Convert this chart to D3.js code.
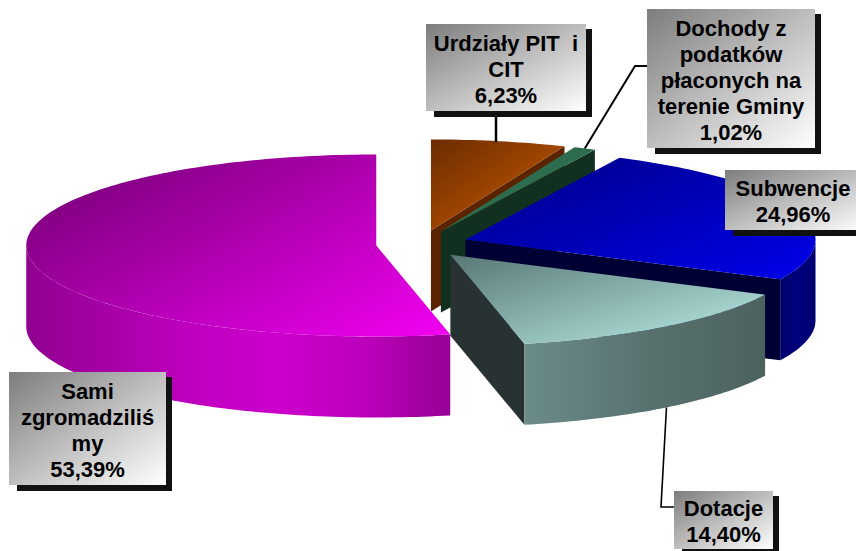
<!DOCTYPE html>
<html lang="pl">
<head>
<meta charset="utf-8">
<title>Struktura dochodów</title>
<script src="https://cdn.jsdelivr.net/npm/d3@7"></script>
<style>
  html, body { margin: 0; padding: 0; background: #fff; overflow: hidden; }
  svg { display: block; }
</style>
</head>
<body>
<script>
// values, clockwise from 12 o'clock
const categories = ['Urdziały PIT  i CIT', 'Dochody z podatków płaconych na terenie Gminy', 'Subwencje', 'Dotacje', 'Sami zgromadziliśmy']
const shares = [6.23, 1.02, 24.96, 14.40, 53.39]
const labelLines = [
  ['Urdziały PIT  i', 'CIT'],
  ['Dochody z', 'podatków', 'płaconych na', 'terenie Gminy'],
  ['Subwencje'],
  ['Dotacje'],
  ['Sami', 'zgromadziliś', 'my']
]

// colours per slice: top face, end wall, outer wall stops
const topColors = [
  ['#6c2c00', '#cc5c00'],
  ['#2a6a4a', '#2f7050'],
  ['#000086', '#0000ea'],
  ['#587774', '#bcefea'],
  ['#7c007c', '#f000f0']
]
const endWallColors = ['#5a2400', '#12301f', '#000034', '#283232', 'none']
const outerWallColors = [
  ['#5a2400', '#5a2400'],
  ['#12301f', '#12301f'],
  ['#00006c', '#00007c', '#000070'],
  ['#6c8c89', '#587270', '#4c625f'],
  ['#900090', '#a800a8', '#bf00bf', '#cc00cc', '#bb00bb', '#960096']
]
// the big slice has its light coming from lower right, steeper than its box diagonal
const magentaTopVector = { x1: 85, y1: 165, x2: 238, y2: 445 }

// label boxes, same order as categories
const labelBoxes = [
  { x: 426, y: 24, w: 160, h: 87 },
  { x: 647, y: 9, w: 168, h: 139 },
  { x: 725, y: 170, w: 140, h: 60 },
  { x: 674, y: 491, w: 99, h: 58 },
  { x: 9, y: 372, w: 157, h: 113 }
]

const width = 856
const height = 551
const cx = 422
const cy = 244
const rx = 350
const ry = 91
const depth = 81
const explode = 46
const explodeTilt = 0.3
const lineStep = 26
const fontSize = 22

const svg = d3.select('body')
  .append('svg')
  .attr('width', width)
  .attr('height', height)
  .attr('role', 'img')
  .attr('aria-label', 'Struktura dochodów')
  .style('font-family', '"Liberation Sans", Arial, sans-serif')

const defs = svg.append('defs')

const pie = d3.pie().sort(null).startAngle(0).endAngle(2 * Math.PI)
const arcs = pie(shares)

const origin = (d) => {
  const mid = (d.startAngle + d.endAngle) / 2
  return [cx + explode * Math.sin(mid), cy - explode * explodeTilt * Math.cos(mid)]
}
const rim = (d, a, drop = 0) => {
  const [ox, oy] = origin(d)
  return [ox + rx * Math.sin(a), oy - ry * Math.cos(a) + drop]
}
const sweep = (a0, a1) => {
  const n = Math.max(2, Math.ceil((a1 - a0) / 0.02))
  return d3.range(n + 1).map((i) => a0 + (a1 - a0) * i / n)
}
const line = d3.line()

const addGradient = (id, colors, horizontal, vector) => {
  const grad = defs.append('linearGradient')
    .attr('id', id)
    .attr('x1', 0).attr('y1', 0)
    .attr('x2', 1).attr('y2', horizontal ? 0 : 1)
  if (vector) {
    grad.attr('gradientUnits', 'userSpaceOnUse')
      .attr('x1', vector.x1).attr('y1', vector.y1)
      .attr('x2', vector.x2).attr('y2', vector.y2)
  }
  colors.forEach((c, i) => {
    grad.append('stop')
      .attr('offset', i / (colors.length - 1))
      .attr('stop-color', c)
  })
}

// back slices first, Dotacje last
const drawOrder = [0, 1, 2, 4, 3]
const chart = svg.append('g')

drawOrder.forEach((i) => {
  const d = arcs[i]
  const o = origin(d)
  addGradient(`top-${i}`, topColors[i], false, i === 4 ? magentaTopVector : null)
  addGradient(`wall-${i}`, outerWallColors[i], true)

  // radial wall at the clockwise end
  if (d.endAngle < Math.PI) {
    const p = rim(d, d.endAngle)
    chart.append('path')
      .attr('d', line([o, p, [p[0], p[1] + depth], [o[0], o[1] + depth]]) + 'Z')
      .attr('fill', endWallColors[i])
  }

  // outer wall, front half only
  const a0 = Math.max(d.startAngle, Math.PI / 2)
  const a1 = Math.min(d.endAngle, 3 * Math.PI / 2)
  if (a1 > a0) {
    const angles = sweep(a0, a1)
    const pts = angles.map((a) => rim(d, a))
      .concat(angles.slice().reverse().map((a) => rim(d, a, depth)))
    chart.append('path')
      .attr('d', line(pts) + 'Z')
      .attr('fill', `url(#wall-${i})`)
  }

  // top face
  chart.append('path')
    .attr('d', line([o].concat(sweep(d.startAngle, d.endAngle).map((a) => rim(d, a)))) + 'Z')
    .attr('fill', `url(#top-${i})`)
})

// leader lines
const midAngle = (d) => (d.startAngle + d.endAngle) / 2
const leaders = [
  { i: 0, points: (p) => [[p[0] - 3, 111], [p[0] - 3, p[1] + 1]], w: 2.5 },
  { i: 1, points: (p) => [[647, 66], [635, 66], p], w: 2 },
  { i: 3, points: (p) => [[674, 507], [661, 507], p], w: 1.6 }
]
leaders.forEach((l) => {
  const d = arcs[l.i]
  const drop = midAngle(d) > Math.PI / 2 ? depth : 0
  svg.append('path')
    .attr('d', line(l.points(rim(d, midAngle(d), drop))))
    .attr('fill', 'none')
    .attr('stroke', '#000')
    .attr('stroke-width', l.w)
})

// label boxes
addGradient('box', ['#7d7d7d', '#ffffff'], false)

const labels = svg.append('g')
  .selectAll('g')
  .data(categories)
  .join('g')

labels.append('rect')
  .attr('x', (d, i) => labelBoxes[i].x + 8)
  .attr('y', (d, i) => labelBoxes[i].y + 5)
  .attr('width', (d, i) => labelBoxes[i].w - 2)
  .attr('height', (d, i) => labelBoxes[i].h + 1)
  .attr('fill', '#111')

labels.append('rect')
  .attr('x', (d, i) => labelBoxes[i].x)
  .attr('y', (d, i) => labelBoxes[i].y)
  .attr('width', (d, i) => labelBoxes[i].w)
  .attr('height', (d, i) => labelBoxes[i].h)
  .attr('fill', 'url(#box)')

labels.each(function (d, i) {
  const box = labelBoxes[i]
  const lines = labelLines[i].concat(shares[i].toFixed(2).replace('.', ',') + '%')
  // Subwencje is centred on its visible box, which runs off the page
  const textX = i === 2 ? 793 : box.x + box.w / 2
  const firstBase = box.y + box.h / 2 - (lines.length - 1) * lineStep / 2 + 9
  d3.select(this).selectAll('text')
    .data(lines)
    .join('text')
    .attr('x', textX)
    .attr('y', (t, k) => firstBase + k * lineStep)
    .attr('text-anchor', 'middle')
    .attr('font-size', fontSize)
    .attr('font-weight', 'bold')
    .attr('fill', '#000')
    .style('white-space', 'pre')
    .text((t) => t)
})
</script>
</body>
</html>
